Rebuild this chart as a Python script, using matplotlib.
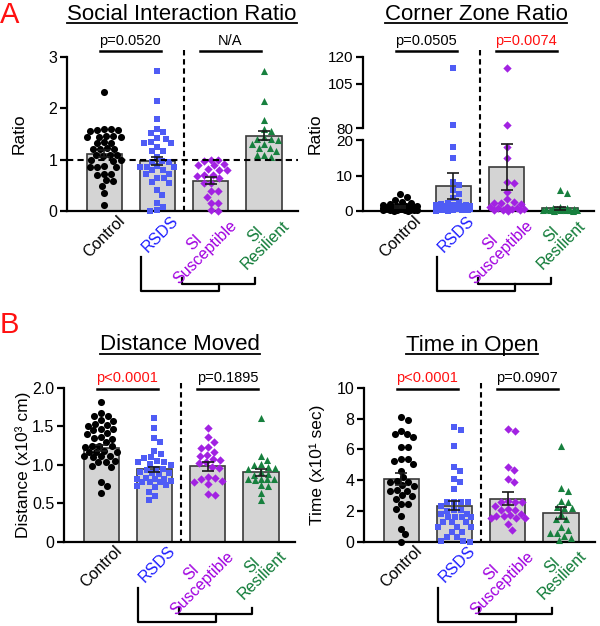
import numpy as np
import matplotlib
matplotlib.use('Agg')
import matplotlib.pyplot as plt
from matplotlib.lines import Line2D
from matplotlib.transforms import blended_transform_factory

plt.rcParams['font.family'] = ['Liberation Sans', 'DejaVu Sans']

# ---- data ----
groups = ['Control', 'RSDS', 'SI\nSusceptible', 'SI\nResilient']

# Social interaction ratio
si_control = [2.32, 1.58, 1.60, 1.57, 1.55, 1.60, 1.45, 1.46, 1.44, 1.45, 1.47, 1.33, 1.34, 1.32,
              1.21, 1.22, 1.20, 1.21, 1.09, 1.10, 1.08, 1.09, 0.99, 1.00, 0.98, 0.86, 0.87, 0.85,
              0.86, 0.72, 0.73, 0.71, 0.59, 0.60, 0.49, 0.36, 0.12]
si_rsds = [2.73, 2.15, 1.79, 1.60, 1.53, 1.52, 1.42, 1.41, 1.33, 1.34, 1.32, 1.25, 1.16, 1.17,
           1.06, 0.96, 0.97, 0.95, 0.86, 0.87, 0.85, 0.86, 0.79, 0.80, 0.72, 0.73, 0.64, 0.65,
           0.55, 0.56, 0.41, 0.31, 0.16, 0.08, 0.00, 0.01]
si_susc = [0.99, 0.98, 1.00, 0.90, 0.91, 0.89, 0.80, 0.81, 0.79, 0.70, 0.71, 0.69, 0.64, 0.54,
           0.55, 0.38, 0.39, 0.28, 0.15, 0.16, 0.00, 0.01]
si_res = [2.73, 2.15, 1.77, 1.60, 1.55, 1.45, 1.40, 1.41, 1.39, 1.31, 1.30, 1.22, 1.23, 1.16,
          1.09, 1.10, 1.06]
si_mean = [1.12, 0.98, 0.59, 1.47]
si_sem = [0.07, 0.08, 0.07, 0.09]

# Corner zone ratio
corner_control = [4.7, 3.9, 3.2, 2.6, 2.2, 1.9, 1.7, 1.5, 1.4, 1.3, 1.2, 1.1, 1.0, 1.0, 0.9, 0.9,
                  0.8, 0.8, 0.8, 0.7, 0.7, 0.7, 0.6, 0.6, 0.6, 0.5, 0.5, 0.5, 0.4, 0.4, 0.4, 0.3,
                  0.3, 0.2, 0.2, 0.1, 0.1]
corner_rsds = [113.6, 81.5, 17.9, 14.8, 8.3, 7.2, 6.0, 4.8, 3.6, 2.6, 2.2, 2.0, 1.8, 1.7, 1.6,
               1.5, 1.4, 1.3, 1.2, 1.1, 1.0, 1.0, 0.9, 0.9, 0.8, 0.8, 0.7, 0.7, 0.6, 0.6, 0.5,
               0.5, 0.4, 0.4, 0.3, 0.3, 0.2, 0.2, 0.1, 0.1]
corner_susc = [113.6, 81.5, 17.9, 14.8, 8.3, 7.8, 5.4, 3.3, 2.4, 2.3, 2.2, 2.1, 1.2, 1.0, 0.9,
               0.8, 0.6, 0.5, 0.4, 0.3, 0.2, 0.1]
corner_res = [5.9, 5.2, 1.0, 0.9, 0.8, 0.7, 0.6, 0.5, 0.5, 0.4, 0.4, 0.3, 0.3, 0.2, 0.2, 0.1, 0.1]
corner_mean = [1.1, 7.1, 12.4, 0.75]
corner_sem = [0.17, 3.6, 6.5, 0.35]

# Distance moved (x10^3 cm)
dist_control = [1.82, 1.67, 1.63, 1.64, 1.58, 1.57, 1.52, 1.53, 1.51, 1.46, 1.47, 1.45, 1.40,
                1.41, 1.35, 1.36, 1.34, 1.29, 1.24, 1.25, 1.23, 1.24, 1.17, 1.18, 1.16, 1.17,
                1.11, 1.12, 1.10, 1.11, 1.04, 1.05, 1.03, 0.97, 0.98, 0.78, 0.72, 0.63]
dist_rsds = [1.61, 1.48, 1.35, 1.29, 1.18, 1.14, 1.09, 1.10, 1.04, 1.05, 1.03, 1.00, 1.01, 0.94,
             0.95, 0.93, 0.89, 0.90, 0.88, 0.89, 0.82, 0.83, 0.81, 0.82, 0.78, 0.79, 0.77, 0.78,
             0.72, 0.73, 0.71, 0.65, 0.59, 0.54]
dist_susc = [1.48, 1.36, 1.30, 1.22, 1.23, 1.17, 1.12, 1.13, 1.06, 1.07, 1.02, 1.03, 0.96, 0.97,
             0.83, 0.84, 0.82, 0.78, 0.79, 0.75, 0.61, 0.62]
dist_res = [1.61, 1.11, 1.06, 1.00, 1.01, 0.96, 0.97, 0.95, 0.91, 0.87, 0.88, 0.81, 0.82, 0.80,
            0.81, 0.82, 0.72, 0.73, 0.63, 0.54]
dist_mean = [1.22, 0.94, 0.98, 0.90]
dist_sem = [0.035, 0.035, 0.055, 0.045]

# Time in open (x10^1 sec)
time_control = [8.1, 7.9, 7.22, 7.0, 7.0, 6.79, 6.14, 6.15, 5.38, 5.37, 5.27, 5.05, 4.62, 4.19,
                3.97, 3.86, 3.87, 3.64, 3.65, 3.32, 3.33, 3.31, 2.99, 3.0, 2.78, 2.45, 2.46, 2.13,
                1.69, 0.82, 0.46, 0.0]
time_rsds = [7.44, 7.27, 6.25, 4.88, 4.62, 4.08, 3.86, 3.43, 2.56, 2.57, 2.55, 2.56, 2.34, 2.02,
             2.03, 2.01, 1.80, 1.81, 1.58, 1.59, 1.57, 1.58, 1.26, 1.27, 1.25, 0.93, 0.94, 0.92,
             0.61, 0.62, 0.28, 0.29, 0.0, 0.01, 0.02]
time_susc = [7.33, 7.22, 4.88, 4.66, 4.08, 3.86, 2.60, 2.61, 2.59, 2.60, 2.34, 2.13, 2.02, 2.03,
             1.80, 1.69, 1.70, 1.68, 1.54, 1.55, 1.53, 1.15, 0.76]
time_res = [6.25, 3.47, 3.27, 2.67, 2.56, 2.28, 2.19, 2.20, 1.80, 1.48, 1.49, 0.93, 0.76, 0.54,
            0.55, 0.39, 0.24, 0.07]
time_mean = [4.08, 2.34, 2.78, 1.84]
time_sem = [0.37, 0.27, 0.42, 0.40]

# p values: (text, is significant)
p_si = [('p=0.0520', False), ('N/A', False)]
p_corner = [('p=0.0505', False), ('p=0.0074', True)]
p_dist = [('p<0.0001', True), ('p=0.1895', False)]
p_time = [('p<0.0001', True), ('p=0.0907', False)]

# ---- style ----
point_colors = ['black', '#4f5cf5', '#a222e2', '#17803e']
label_colors = ['black', '#1e1eff', '#a000e0', '#0e7a36']
markers = ['o', 's', 'D', '^']
marker_sizes = [26, 24, 18, 26]
RED = '#ff1010'

FIG_W, FIG_H = 600, 626
AX_W = 231
XLIM = (-0.7, 3.64)
X_PX = AX_W / (XLIM[1] - XLIM[0])


def fx(px):
    return px / FIG_W


def fy(py):
    return 1 - py / FIG_H


def swarm_x(values, y_px, d=6.8, half_w=17.0):
    vals = np.asarray(values, float)
    cands = np.arange(-half_w, half_w + 0.5, 1.0)
    cands = cands[np.lexsort((-cands, np.abs(cands)))]
    px_list, py_list = [], []
    out = np.zeros(len(vals))
    for k in np.argsort(-vals, kind='stable'):
        y = vals[k] * y_px
        if px_list:
            px = np.array(px_list)
            py = np.array(py_list)
            dmin = np.array([np.min(np.hypot(c - px, y - py)) for c in cands])
            ok = np.where(dmin >= d)[0]
            c = cands[ok[0]] if len(ok) else cands[np.argmax(dmin)]
        else:
            c = 0.0
        px_list.append(c)
        py_list.append(y)
        out[k] = c / X_PX
    return out


def style_axes(ax, ylim, yticks, ylabels=None, bottom=True):
    ax.set_xlim(*XLIM)
    ax.set_ylim(*ylim)
    ax.set_yticks(yticks)
    if ylabels is not None:
        ax.set_yticklabels(ylabels)
    ax.set_xticks([])
    for s in ['top', 'right']:
        ax.spines[s].set_visible(False)
    ax.spines['left'].set_linewidth(1.6)
    ax.spines['bottom'].set_linewidth(1.6)
    ax.spines['bottom'].set_visible(bottom)
    ax.tick_params(axis='y', direction='out', length=5, width=1.6, labelsize=11.5, pad=2)
    ax.patch.set_alpha(0)


def draw_bars(ax, means, sems):
    x = np.arange(len(means))
    ax.bar(x, means, width=0.66, color='#d4d4d4', edgecolor='#3a3a3a', linewidth=1.2, zorder=1)
    ax.errorbar(x, means, yerr=sems, fmt='none', ecolor='#1a1a1a', elinewidth=1.2,
                capsize=4.6, capthick=1.2, zorder=4)


def draw_points(ax, data, y_px):
    for i, vals in enumerate(data):
        if len(vals) == 0:
            continue
        offs = swarm_x(vals, y_px)
        ax.scatter(i + offs, vals, marker=markers[i], s=marker_sizes[i], c=point_colors[i],
                   linewidths=0, zorder=3, clip_on=False)


def decorate(ax, bottom_px, pbar_px, ptext_px, dash_top_px, pvals):
    tr = blended_transform_factory(ax.transData, fig.transFigure)
    # category labels
    for i, g in enumerate(groups):
        ax.text(i + 0.34, fy(bottom_px + 7), g, transform=tr, rotation=45, ha='right', va='center',
                rotation_mode='anchor', multialignment='center', linespacing=1.0,
                fontsize=11.5, color=label_colors[i])
    # brackets below labels
    kw = dict(transform=tr, clip_on=False, color='black', lw=1.6, solid_capstyle='projecting')
    ax.plot([0.69, 0.69, 2.15, 2.15],
            [fy(bottom_px + 46), fy(bottom_px + 80), fy(bottom_px + 80), fy(bottom_px + 72.5)], **kw)
    ax.plot([1.46, 1.46, 2.83, 2.83],
            [fy(bottom_px + 66.5), fy(bottom_px + 72.5), fy(bottom_px + 72.5), fy(bottom_px + 66.5)], **kw)
    # dashed divider
    ax.plot([1.5, 1.5], [fy(dash_top_px), fy(bottom_px)], transform=tr, clip_on=False,
            color='black', lw=1.5, ls=(0, (2.6, 1.8)))
    # comparison bars with p values
    for (x0, x1), (txt, sig) in zip([(-0.08, 1.06), (1.8, 2.94)], pvals):
        ax.plot([x0, x1], [fy(pbar_px)] * 2, transform=tr, clip_on=False, color='black', lw=1.8)
        ax.text((x0 + x1) / 2, fy(ptext_px), txt, transform=tr, ha='center', va='center',
                fontsize=10.5, color=RED if sig else 'black')


fig = plt.figure(figsize=(6, 6.26), dpi=100)

# row geometry in pixels
A_TOP, A_BOT = 57, 211
B_TOP, B_BOT = 388, 541.5


def make_ax(left_px, top_px, bot_px):
    return fig.add_axes([fx(left_px), fy(bot_px), AX_W / FIG_W, (bot_px - top_px) / FIG_H])


# Panel A left: social interaction ratio
ax1 = make_ax(67, A_TOP, A_BOT)
style_axes(ax1, (0, 3), [0, 1, 2, 3])
draw_bars(ax1, si_mean, si_sem)
draw_points(ax1, [si_control, si_rsds, si_susc, si_res], (A_BOT - A_TOP) / 3)
ax1.axhline(1, color='black', lw=1.5, ls=(0, (3, 2)), zorder=5)
decorate(ax1, A_BOT, 51, 41, 50, p_si)

# Panel A right: corner zone ratio, broken axis
ax2_lo = make_ax(363, 140, A_BOT)
ax2_hi = make_ax(363, A_TOP, 128)
style_axes(ax2_lo, (0, 20), [0, 10, 20])
style_axes(ax2_hi, (80, 120), [80, 105, 120], bottom=False)
ax2_lo.tick_params(axis='y', labelsize=11)
ax2_hi.tick_params(axis='y', labelsize=11)
draw_bars(ax2_lo, corner_mean, corner_sem)
corner = [corner_control, corner_rsds, corner_susc, corner_res]
draw_points(ax2_lo, [[v for v in g if v <= 20] for g in corner], (A_BOT - 140) / 20)
draw_points(ax2_hi, [[v for v in g if v > 20] for g in corner], (128 - A_TOP) / 40)
decorate(ax2_lo, A_BOT, 51, 41, 50, p_corner)

# Panel B left: distance moved
ax3 = make_ax(64, B_TOP, B_BOT)
style_axes(ax3, (0, 2), [0, 0.5, 1.0, 1.5, 2.0], ['0', '0.5', '1.0', '1.5', '2.0'])
draw_bars(ax3, dist_mean, dist_sem)
draw_points(ax3, [dist_control, dist_rsds, dist_susc, dist_res], (B_BOT - B_TOP) / 2)
decorate(ax3, B_BOT, 389, 378, 383, p_dist)

# Panel B right: time in open
ax4 = make_ax(364, B_TOP, B_BOT)
style_axes(ax4, (0, 10), [0, 2, 4, 6, 8, 10])
draw_bars(ax4, time_mean, time_sem)
draw_points(ax4, [time_control, time_rsds, time_susc, time_res], (B_BOT - B_TOP) / 10)
decorate(ax4, B_BOT, 389, 378, 383, p_time)

# y labels
fig.text(fx(19), fy(134), 'Ratio', rotation=90, ha='center', va='center', fontsize=12.5)
fig.text(fx(315), fy(134), 'Ratio', rotation=90, ha='center', va='center', fontsize=12.5)
fig.text(fx(23), fy(465), 'Distance (x10³ cm)', rotation=90, ha='center', va='center', fontsize=12.5)
fig.text(fx(317), fy(465), 'Time (x10¹ sec)', rotation=90, ha='center', va='center', fontsize=12.5)

# titles (underlined)
titles = [('Social Interaction Ratio', 182, 15, 23), ('Corner Zone Ratio', 476, 15, 23),
          ('Distance Moved', 180, 345, 354), ('Time in Open', 472, 345, 354)]
title_texts = []
for txt, cx, cy, uy in titles:
    t = fig.text(fx(cx), fy(cy), txt, ha='center', va='center', fontsize=16)
    title_texts.append((t, uy))

# panel letters
fig.text(fx(0), fy(23), 'A', ha='left', va='baseline', fontsize=21, color=RED)
fig.text(fx(0), fy(333), 'B', ha='left', va='baseline', fontsize=21, color=RED)

fig.canvas.draw()
renderer = fig.canvas.get_renderer()
for t, uy in title_texts:
    bb = t.get_window_extent(renderer)
    fig.add_artist(Line2D([bb.x0 / FIG_W, bb.x1 / FIG_W], [fy(uy)] * 2,
                          transform=fig.transFigure, color='black', lw=1.3))

fig.savefig('out.png', dpi=100)
